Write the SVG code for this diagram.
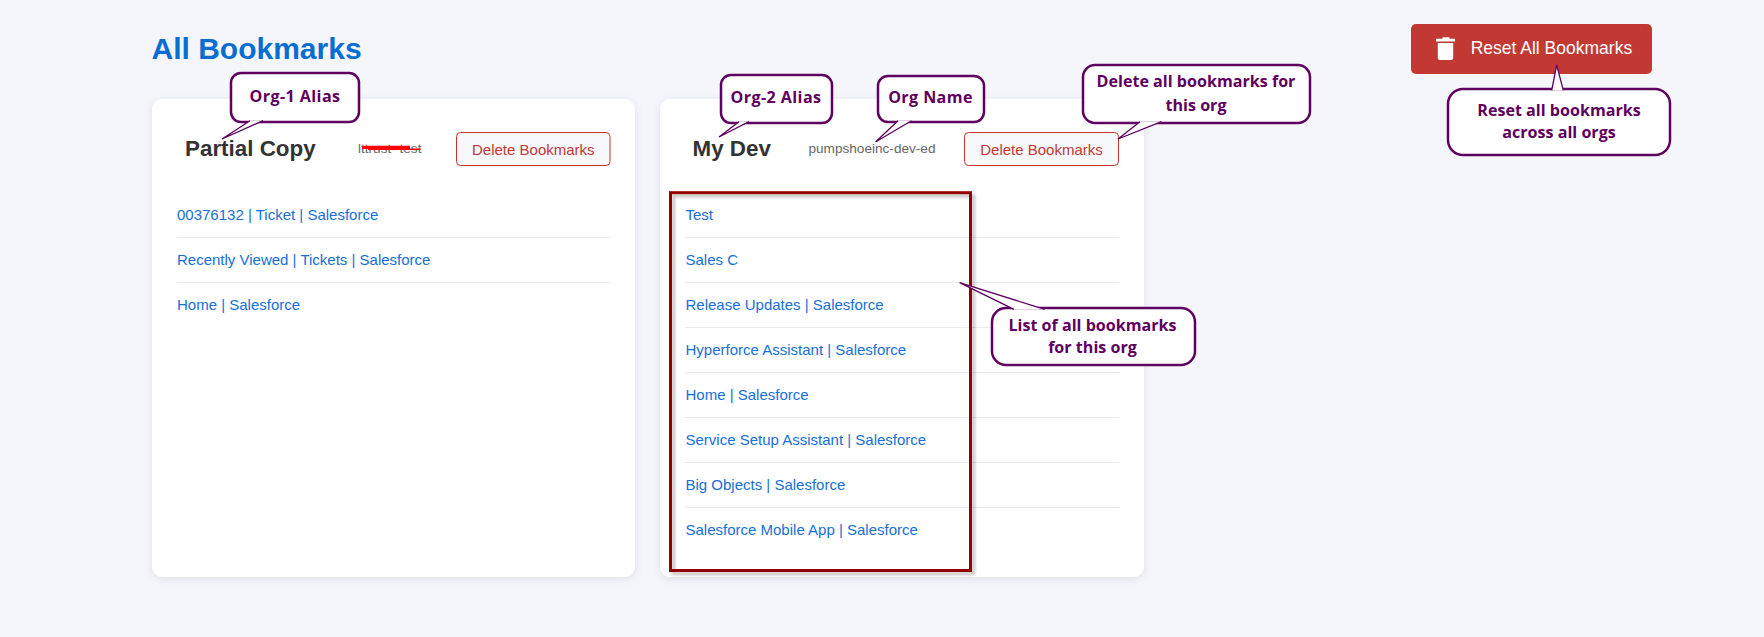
<svg xmlns="http://www.w3.org/2000/svg" width="1764" height="637" viewBox="0 0 1764 637">
<defs>
<filter id="cardShadow" x="-5%" y="-5%" width="110%" height="110%"><feDropShadow dx="0" dy="2" stdDeviation="4" flood-color="#000" flood-opacity="0.09"/></filter>
<filter id="boxShadow" x="-5%" y="-5%" width="110%" height="110%"><feDropShadow dx="3" dy="3" stdDeviation="1.5" flood-color="#000" flood-opacity="0.25"/></filter>
</defs>
<style>
text{font-family:"Liberation Sans",Arial,sans-serif}
.card{fill:#fff;filter:url(#cardShadow)}
.title{font-size:30px;font-weight:700;fill:#0a6ed1}
.org{font-size:22.4px;font-weight:700;fill:#333}
.name{font-size:13.6px;fill:#666}
.btn{fill:#f7f8fa;stroke:#c8342c;stroke-width:1}
.btnt{font-size:15px;fill:#c23934;text-anchor:middle}
.link{font-size:15px;fill:#1670d8}
.div{stroke:#e9ebef;stroke-width:1}
.call{fill:#fff;stroke:#5f0060;stroke-width:2.5}
.tail{fill:#fff;stroke:#5f0060;stroke-width:1.3;stroke-linejoin:miter;stroke-miterlimit:3}
.callt{font-family:"Open Sans","Noto Sans",sans-serif;font-size:16.1px;font-weight:700;fill:#5f0060;text-anchor:middle}
.sp{letter-spacing:.4px}
</style>
<rect width="1764" height="637" fill="#f4f6fb"/>
<text id="page-title" class="title" x="151.500" y="59">All Bookmarks</text>

<g id="card-1">
<rect class="card" x="152" y="99" width="483" height="478" rx="11"/>
<text class="org" x="185" y="156">Partial Copy</text>
<text class="name" x="358" y="153">lttrust- test</text>
<path d="M362 147.300H410" stroke="#f00" stroke-width="3.300" fill="none"/>
<path d="M368 149.300H420.500" stroke="#f00" stroke-width="1.600" fill="none"/>
<rect class="btn" x="456.500" y="132.500" width="153.500" height="33" rx="4"/>
<text class="btnt" x="533.300" y="155">Delete Bookmarks</text>
<text class="link" x="177" y="220">00376132 | Ticket | Salesforce</text>
<path class="div" d="M177 237.500H610"/>
<text class="link" x="177" y="265">Recently Viewed | Tickets | Salesforce</text>
<path class="div" d="M177 282.500H610"/>
<text class="link" x="177" y="310">Home | Salesforce</text>
</g>

<g id="card-2">
<rect class="card" x="660" y="99" width="484" height="478" rx="11"/>
<text class="org" x="692.500" y="156">My Dev</text>
<text class="name" x="808.500" y="153">pumpshoeinc-dev-ed</text>
<rect class="btn" x="964.500" y="132.500" width="154" height="33" rx="4"/>
<text class="btnt" x="1041.500" y="155">Delete Bookmarks</text>
<path class="div" d="M685 237.500H1119M685 282.500H1119M685 327.500H1119M685 372.500H1119M685 417.500H1119M685 462.500H1119M685 507.500H1119"/>
<text class="link" x="685.500" y="220">Test</text>
<text class="link" x="685.500" y="265">Sales C</text>
<text class="link" x="685.500" y="310">Release Updates | Salesforce</text>
<text class="link" x="685.500" y="355">Hyperforce Assistant | Salesforce</text>
<text class="link" x="685.500" y="400">Home | Salesforce</text>
<text class="link" x="685.500" y="445">Service Setup Assistant | Salesforce</text>
<text class="link" x="685.500" y="490">Big Objects | Salesforce</text>
<text class="link" x="685.500" y="535">Salesforce Mobile App | Salesforce</text>
</g>

<g id="reset-button">
<rect x="1411" y="24" width="241" height="50" rx="5" fill="#c23934"/>
<path d="M1442.500 38.700V37.300H1449.500V38.700H1455V41.500H1436V38.700ZM1437.800 43H1453.200V58C1453.200 59.200 1452.300 60 1451.200 60H1439.800C1438.700 60 1437.800 59.200 1437.800 58Z" fill="#fff"/>
<text x="1470.700" y="54.300" font-size="17.500" fill="#fff">Reset All Bookmarks</text>
</g>

<rect id="list-highlight" x="670.500" y="192.700" width="300" height="377.800" fill="none" stroke="#930000" stroke-width="3" filter="url(#boxShadow)"/>

<g id="callout-org1-alias">
<rect class="call" x="231" y="73" width="128" height="49" rx="10"/>
<path class="tail" d="M250 120.700L222 139L263 120.700"/>
<text class="callt sp" x="295" y="102">Org-1 Alias</text>
</g>
<g id="callout-org2-alias">
<rect class="call" x="721" y="75" width="111" height="48" rx="10"/>
<path class="tail" d="M739 121.700L719 137L749 121.700"/>
<text class="callt sp" x="776" y="103">Org-2 Alias</text>
</g>
<g id="callout-org-name">
<rect class="call" x="878" y="76" width="106" height="46" rx="10"/>
<path class="tail" d="M898 120.700L875.500 142L911.500 120.700"/>
<text class="callt sp" x="930.500" y="103">Org Name</text>
</g>
<g id="callout-delete-org">
<rect class="call" x="1083" y="65" width="227" height="58" rx="12"/>
<path class="tail" d="M1140 121.700L1118 139L1161.500 121.700"/>
<text class="callt" x="1196" y="87.300">Delete all bookmarks for</text>
<text class="callt" x="1196" y="110.700">this org</text>
</g>
<g id="callout-reset-all">
<rect class="call" x="1448" y="89" width="222" height="66" rx="15"/>
<path class="tail" d="M1551.700 90.300L1556.700 65L1563.300 90.300"/>
<text class="callt" x="1559" y="115.700">Reset all bookmarks</text>
<text class="callt" x="1559" y="138.300">across all orgs</text>
</g>
<g id="callout-list">
<rect class="call" x="992" y="308" width="203" height="57" rx="14"/>
<path class="tail" d="M1014 309.300L959.600 282.700L1044.600 309.300"/>
<text class="callt" x="1092.500" y="331">List of all bookmarks</text>
<text class="callt" x="1092.500" y="353">for this org</text>
</g>
</svg>
